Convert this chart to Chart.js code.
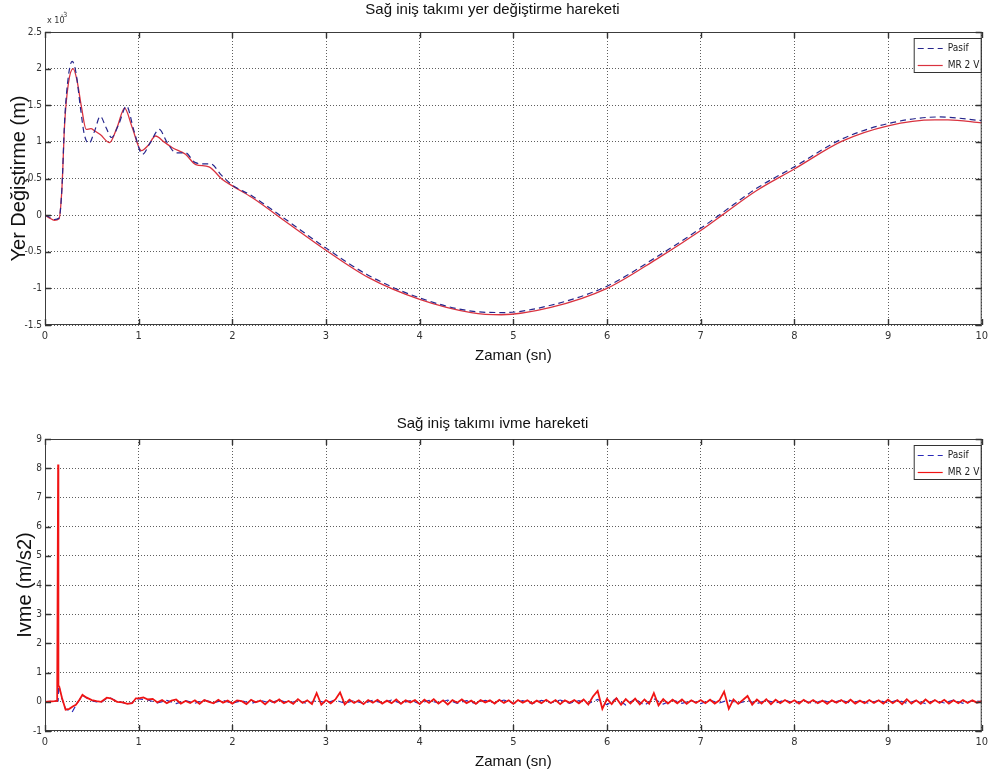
<!DOCTYPE html>
<html><head><meta charset="utf-8">
<script src="https://cdn.jsdelivr.net/npm/chart.js@4.4.1/dist/chart.umd.min.js"></script>
<style>
html,body{margin:0;padding:0;background:#fff;}
#wrap{position:relative;width:993px;height:778px;overflow:hidden;background:#fff;}
.box{position:absolute;left:0;width:993px;}
</style></head><body>
<div id="wrap">
<div class="box" style="top:0;height:378px"><canvas id="c1" width="993" height="378"></canvas></div>
<div class="box" style="top:378px;height:400px"><canvas id="c2" width="993" height="400"></canvas></div>
</div>
<script>
// ---------- Data: top chart (displacement, x10^-3 m) ----------
const seriesNames = ['Pasif', 'MR 2 V'];
const titleTop = 'Sağ iniş takımı yer değiştirme hareketi';
const titleBottom = 'Sağ iniş takımı ivme hareketi';
const xTitle = 'Zaman (sn)';
const yTitleTop = 'Yer Değiştirme (m)';
const yTitleBottom = 'Ivme (m/s2)';

const pasifDispTime = [0, 0.05, 0.10, 0.15, 0.18, 0.21, 0.25, 0.29, 0.33, 0.38, 0.42, 0.47, 0.53, 0.59, 0.65, 0.71, 0.79, 0.87, 0.95, 1.04, 1.12, 1.22, 1.30, 1.40, 1.50, 1.60, 1.70, 1.77, 1.88, 2.00, 2.20, 2.56, 3.00, 3.45, 4.00, 4.55, 4.90, 5.40, 6.00, 6.53, 7.00, 7.24, 7.59, 8.00, 8.51, 9.00, 9.55, 10.00];
const pasifDisp = [0, -0.03, -0.06, -0.04, 0.35, 1.30, 1.90, 2.10, 1.95, 1.45, 1.10, 0.98, 1.15, 1.35, 1.20, 1.06, 1.25, 1.49, 1.15, 0.83, 0.98, 1.17, 1.00, 0.85, 0.85, 0.72, 0.70, 0.70, 0.55, 0.41, 0.27, -0.05, -0.45, -0.82, -1.13, -1.31, -1.33, -1.23, -0.97, -0.57, -0.18, 0.04, 0.36, 0.66, 1.04, 1.25, 1.34, 1.29];

const mrDispTime = [0, 0.05, 0.10, 0.15, 0.18, 0.21, 0.25, 0.30, 0.34, 0.39, 0.44, 0.49, 0.53, 0.59, 0.69, 0.77, 0.85, 0.93, 1.03, 1.10, 1.18, 1.27, 1.36, 1.50, 1.61, 1.75, 1.89, 2.00, 2.21, 2.56, 3.00, 3.45, 4.00, 4.55, 4.87, 5.40, 6.00, 6.53, 7.00, 7.24, 7.59, 8.00, 8.51, 9.00, 9.50, 9.64, 10.00];
const mrDisp = [0, -0.04, -0.07, -0.05, 0.35, 1.25, 1.80, 2.00, 1.85, 1.47, 1.17, 1.18, 1.15, 1.10, 0.99, 1.20, 1.46, 1.20, 0.88, 0.95, 1.08, 1.00, 0.92, 0.83, 0.69, 0.66, 0.49, 0.40, 0.24, -0.08, -0.48, -0.85, -1.15, -1.33, -1.36, -1.26, -1.00, -0.60, -0.21, 0.01, 0.33, 0.63, 1.01, 1.22, 1.30, 1.30, 1.26];

const dispTicksY = [-1.5, -1, -0.5, 0, 0.5, 1, 1.5, 2, 2.5];
const timeTicks = [0, 1, 2, 3, 4, 5, 6, 7, 8, 9, 10];
const accTicksY = [-1, 0, 1, 2, 3, 4, 5, 6, 7, 8, 9];

// ---------- Data: bottom chart (acceleration, m/s2) ----------
const pasifAccEarlyTime = [0, 0.05, 0.10, 0.13, 0.14, 0.145, 0.152, 0.18, 0.22, 0.26, 0.29, 0.33, 0.37, 0.40, 0.44, 0.50, 0.55, 0.60, 0.66, 0.70, 0.77, 0.83, 0.88, 0.93, 0.97];
const pasifAccEarly = [0, 0.01, 0.02, 0.03, 0.03, 0.55, 0.50, 0.12, -0.25, -0.30, -0.35, -0.12, 0.08, 0.22, 0.14, 0.04, 0.0, -0.02, 0.12, 0.13, 0.01, -0.03, -0.06, -0.04, 0.10];
const pasifNoiseStart = 1.0, pasifNoiseStep = 0.1;
const pasifAccNoise = [
  0.10, 0.06, -0.04, 0.05, -0.06, 0.04, -0.05, 0.06, -0.03, 0.05,
  -0.05, 0.04, -0.06, 0.05, -0.04, 0.06, -0.05, 0.04, -0.06, 0.05,
  -0.04, 0.06, -0.05, 0.04, -0.06, 0.05, -0.04, 0.06, -0.05, 0.04,
  -0.06, 0.05, -0.04, 0.06, -0.05, 0.04, -0.06, 0.05, -0.04, 0.06,
  -0.05, 0.04, -0.06, 0.05, -0.04, 0.06, -0.05, 0.04, -0.06, 0.08,
  -0.10, 0.12, -0.11, 0.10, -0.12, 0.11, -0.08, 0.06, -0.05, 0.04,
  -0.06, 0.05, -0.04, 0.06, -0.05, 0.04, -0.06, 0.05, -0.04, 0.06,
  -0.05, 0.04, -0.06, 0.05, -0.04, 0.06, -0.05, 0.04, -0.06, 0.05,
  -0.04, 0.06, -0.05, 0.04, -0.06, 0.05, -0.04, 0.06, -0.05, 0.04,
  0.01
];

const mrAccEarlyTime = [0, 0.05, 0.10, 0.13, 0.138, 0.14, 0.143, 0.152, 0.18, 0.22, 0.26, 0.30, 0.33, 0.37, 0.40, 0.44, 0.50, 0.55, 0.60, 0.66, 0.70, 0.77, 0.83, 0.88, 0.93, 0.97];
const mrAccEarly = [0, 0.01, 0.02, 0.03, 0.03, 8.13, 0.56, 0.52, 0.15, -0.27, -0.24, -0.15, -0.10, 0.08, 0.24, 0.15, 0.06, 0.02, 0.0, 0.14, 0.12, 0.0, -0.02, -0.07, -0.05, 0.12];
const mrNoiseStart = 1.0, mrNoiseStep = 0.05;
const mrAccNoise = [
  0.12, 0.15, 0.08, 0.10, -0.02, 0.06, -0.05, 0.04, 0.08, -0.06, 0.03, -0.04, 0.05, -0.07, 0.06, 0.00, -0.05, 0.07, -0.03, 0.04,
  -0.06, 0.05, 0.02, -0.08, 0.07, -0.02, 0.04, -0.09, 0.06, -0.03, 0.08, -0.05, 0.03, -0.07, 0.09, -0.04, 0.05, -0.08, 0.30, -0.10,
  0.06, -0.05, 0.08, 0.32, -0.09, 0.07, -0.04, 0.05, -0.08, 0.06, -0.03, 0.07, -0.06, 0.04, -0.05, 0.08, -0.07, 0.05, -0.02, 0.06,
  -0.08, 0.07, -0.04, 0.09, -0.06, 0.05, -0.09, 0.06, -0.03, 0.08, -0.05, 0.04, -0.07, 0.06, -0.02, 0.05, -0.06, 0.07, -0.04, 0.05,
  -0.07, 0.06, -0.03, 0.05, -0.06, 0.04, -0.05, 0.07, -0.04, 0.06, -0.08, 0.05, -0.03, 0.06, -0.05, 0.08, -0.09, 0.18, 0.37, -0.24,
  0.10, -0.08, 0.12, -0.10, 0.09, -0.06, 0.11, -0.09, 0.08, -0.07, 0.30, -0.12, 0.09, -0.06, 0.07, -0.05, 0.08, -0.07, 0.05, -0.04,
  0.06, -0.05, 0.07, -0.06, 0.05, 0.35, -0.24, 0.08, -0.07, 0.06, 0.20, -0.10, 0.08, -0.06, 0.09, -0.08, 0.07, -0.05, 0.06, -0.04,
  0.05, -0.06, 0.07, -0.04, 0.06, -0.05, 0.04, -0.07, 0.05, -0.03, 0.06, -0.05, 0.07, -0.06, 0.04, -0.05, 0.06, -0.04, 0.05, -0.06,
  0.07, -0.05, 0.06, -0.08, 0.09, -0.06, 0.05, -0.07, 0.08, -0.05, 0.06, -0.04, 0.07, -0.06, 0.05, -0.05, 0.06, -0.04, 0.05, -0.03,
  0.02
];

// ---------- helpers ----------
function pairs(xs, ys) { return xs.map((x, i) => ({x, y: ys[i]})); }
function sampled(start, step, ys) { return ys.map((y, i) => ({x: +(start + i * step).toFixed(3), y})); }

const narrow = "'Liberation Sans Narrow','Arial Narrow','DejaVu Sans Condensed','Liberation Sans',sans-serif";
const sans = "'Liberation Sans',Arial,sans-serif";

const matlabPlugin = {
  id: 'matlab',
  afterDatasetsDraw(chart, args, opts) {
    const {ctx, chartArea: a, scales: {x, y}} = chart;
    ctx.save();
    ctx.strokeStyle = '#3c3c3c';
    ctx.lineWidth = 1;
    ctx.strokeRect(a.left + 0.5, a.top + 0.5, a.right - a.left - 1, a.bottom - a.top - 1);
    ctx.strokeStyle = '#333';
    ctx.lineWidth = 1.4;
    const tl = 6;
    ctx.beginPath();
    opts.xTicks.forEach(v => {
      const px = Math.round(x.getPixelForValue(v)) + 0.5;
      ctx.moveTo(px, a.bottom); ctx.lineTo(px, a.bottom - tl);
      ctx.moveTo(px, a.top); ctx.lineTo(px, a.top + tl);
    });
    opts.yTicks.forEach(v => {
      const py = Math.round(y.getPixelForValue(v)) + 0.5;
      ctx.moveTo(a.left, py); ctx.lineTo(a.left + tl, py);
      ctx.moveTo(a.right, py); ctx.lineTo(a.right - tl, py);
    });
    ctx.stroke();
    const bw = 67, bh = 34;
    const bx = a.right - 1 - bw, by = a.top + 6;
    ctx.fillStyle = '#fff';
    ctx.fillRect(bx, by, bw, bh);
    ctx.strokeStyle = '#333';
    ctx.lineWidth = 1;
    ctx.strokeRect(bx + 0.5, by + 0.5, bw, bh);
    ctx.font = '10px ' + narrow;
    ctx.textBaseline = 'middle';
    ctx.textAlign = 'left';
    opts.legendOrder.forEach((di, row) => {
      const ds = chart.data.datasets[di];
      const ly = by + 10 + row * 17;
      ctx.strokeStyle = ds.borderColor;
      ctx.lineWidth = 1.2;
      ctx.setLineDash(ds.borderDash || []);
      ctx.beginPath(); ctx.moveTo(bx + 4, ly + 0.5); ctx.lineTo(bx + 29, ly + 0.5); ctx.stroke();
      ctx.setLineDash([]);
      ctx.fillStyle = '#222';
      ctx.fillText(ds.label, bx + 34, ly);
    });
    if (opts.exponent) {
      ctx.fillStyle = '#333';
      ctx.font = '9px ' + narrow;
      ctx.textBaseline = 'alphabetic';
      ctx.fillText('x 10', a.left + 2, a.top - 9);
      ctx.font = '7px ' + narrow;
      ctx.fillText(opts.exponent, a.left + 16, a.top - 15);
    }
    ctx.restore();
  }
};

function makeOptions(cfg) {
  return {
    responsive: false,
    animation: false,
    layout: {padding: {left: 0, right: 8, top: 0, bottom: 0}},
    plugins: {
      legend: {display: false},
      tooltip: {enabled: false},
      title: {
        display: true, text: cfg.title, color: '#111',
        font: {family: sans, size: 15, weight: 'normal'},
        padding: {top: cfg.titlePadTop, bottom: cfg.titlePadBottom}
      },
      matlab: {xTicks: timeTicks, yTicks: cfg.yTicks, legendOrder: cfg.legendOrder, exponent: cfg.exponent}
    },
    scales: {
      x: {
        type: 'linear', min: 0, max: 10,
        afterBuildTicks: s => { s.ticks = timeTicks.map(v => ({value: v})); },
        afterFit: s => { s.height = cfg.xHeight; },
        grid: {color: 'rgba(40,40,40,0.75)', lineWidth: 1, drawTicks: false},
        border: {display: false, dash: [1, 2]},
        ticks: {color: '#333', padding: 5, font: {family: narrow, size: 11}, maxRotation: 0, autoSkip: false},
        title: {display: true, text: xTitle, color: '#111', font: {family: sans, size: 15}, padding: {top: 0, bottom: cfg.xTitlePadBottom}}
      },
      y: {
        type: 'linear', min: cfg.yMin, max: cfg.yMax,
        afterBuildTicks: s => { s.ticks = cfg.yTicks.map(v => ({value: v})); },
        afterFit: s => { s.width = 45; },
        grid: {color: 'rgba(40,40,40,0.75)', lineWidth: 1, drawTicks: false},
        border: {display: false, dash: [1, 2]},
        ticks: {color: '#333', padding: 3, font: {family: narrow, size: 10}, autoSkip: false, callback: v => String(v)},
        title: {display: true, text: cfg.yTitle, color: '#111', font: {family: sans, size: cfg.yTitleSize}, padding: {top: cfg.yTitlePad, bottom: 0}}
      }
    }
  };
}

new Chart(document.getElementById('c1'), {
  type: 'line',
  data: {
    datasets: [
      {label: seriesNames[0], data: pairs(pasifDispTime, pasifDisp), borderColor: '#26268c', borderWidth: 1.2, borderDash: [6, 4], pointRadius: 0, cubicInterpolationMode: 'monotone', fill: false},
      {label: seriesNames[1], data: pairs(mrDispTime, mrDisp), borderColor: '#d9323f', borderWidth: 1.3, pointRadius: 0, cubicInterpolationMode: 'monotone', fill: false}
    ]
  },
  options: makeOptions({
    title: titleTop, titlePadTop: 1, titlePadBottom: 13,
    xHeight: 53, xTitlePadBottom: 13,
    yMin: -1.5, yMax: 2.5, yTicks: dispTicksY,
    yTitle: yTitleTop, yTitleSize: 20, yTitlePad: 7,
    legendOrder: [0, 1], exponent: '-3'
  }),
  plugins: [matlabPlugin]
});

new Chart(document.getElementById('c2'), {
  type: 'line',
  data: {
    datasets: [
      {label: seriesNames[1], data: pairs(mrAccEarlyTime, mrAccEarly).concat(sampled(mrNoiseStart, mrNoiseStep, mrAccNoise)), borderColor: '#f01414', borderWidth: 1.8, pointRadius: 0, tension: 0, fill: false},
      {label: seriesNames[0], data: pairs(pasifAccEarlyTime, pasifAccEarly).concat(sampled(pasifNoiseStart, pasifNoiseStep, pasifAccNoise)), borderColor: '#2a2ab8', borderWidth: 1.2, borderDash: [6, 4], pointRadius: 0, tension: 0, fill: false}
    ]
  },
  options: makeOptions({
    title: titleBottom, titlePadTop: 37, titlePadBottom: 6,
    xHeight: 47, xTitlePadBottom: 7,
    yMin: -1, yMax: 9, yTicks: accTicksY,
    yTitle: yTitleBottom, yTitleSize: 20, yTitlePad: 13,
    legendOrder: [1, 0], exponent: null
  }),
  plugins: [matlabPlugin]
});
</script>
</body></html>
